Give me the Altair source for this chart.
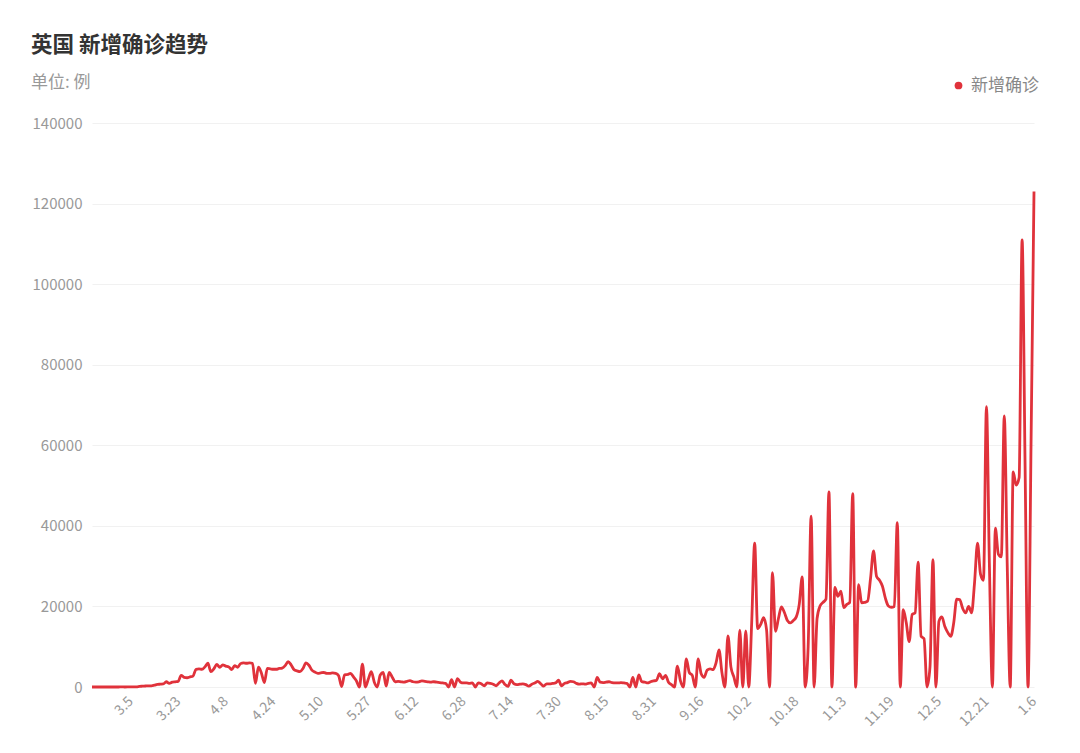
import altair as alt
import pandas as pd

# ---- categories: daily dates shown on the category axis (a few days are absent in the source) ----
start = pd.Timestamp("2020-02-21")
end = pd.Timestamp("2021-01-06")
missing_days = ["2020-03-08", "2020-03-15", "2020-05-17"]
all_days = pd.date_range(start, end, freq="D")
dates = [f"{d.month}.{d.day}" for d in all_days if d.strftime("%Y-%m-%d") not in missing_days]

# ---- series values ----
values = [
    0, 0, 0, 0, 4, 0, 3, 2, 0, 4,
    13, 3, 12, 36, 29, 48, 150, 200, 250, 300,
    300, 450, 650, 700, 750, 1300, 900, 1200, 1300, 1400,
    2900, 2400, 2300, 2500, 2700, 4400, 4500, 4400, 5000, 5900,
    3800, 4500, 5600, 4900, 5500, 5200, 5000, 4300, 5300, 4900,
    5800, 6000, 5900, 6000, 5900, 900, 4900, 3500, 1100, 4600,
    4500, 4400, 4400, 4600, 4700, 5300, 6300, 5500, 4300, 4000,
    3800, 4600, 6000, 5400, 4200, 3700, 3400, 3500, 3600, 3400,
    3400, 3500, 3400, 2800, 100, 3000, 3100, 3400, 2500, 1500,
    0, 5700, 0, 2000, 3800, 1200, 0, 3000, 3600, 200,
    3600, 2500, 1300, 1400, 1300, 1200, 1400, 1600, 1300, 1200,
    1300, 1500, 1400, 1300, 1200, 1300, 1200, 1100, 1000, 900,
    0, 1800, 0, 2100, 1200, 1000, 1000, 900, 1000, 0,
    1000, 800, 300, 1000, 900, 700, 300, 1000, 1500, 600,
    150, 1700, 800, 600, 700, 800, 600, 200, 700, 1000,
    1400, 800, 200, 800, 800, 900, 1000, 1700, 300, 900,
    1100, 1400, 1300, 900, 700, 800, 700, 900, 1000, 0,
    2400, 1200, 1100, 1200, 1300, 1100, 1000, 1000, 1100, 1000,
    900, 0, 2400, 0, 3000, 1300, 1200, 1000, 1300, 1500,
    1700, 3300, 2000, 2900, 1200, 600, 0, 5200, 1600, 0,
    7000, 3600, 2900, 0, 7000, 3300, 2400, 4200, 4500, 4300,
    6000, 9200, 3500, 0, 12700, 5000, 2500, 0, 14100, 0,
    13900, 0, 16000, 35700, 14500, 15500, 17200, 14200, 0, 28400,
    13800, 17000, 19900, 18500, 16500, 15900, 16500, 17400, 20500, 27300,
    0, 10000, 42400, 0, 17000, 20100, 21000, 21800, 48400, 0,
    24700, 22500, 23800, 19700, 20500, 21000, 48000, 0, 25400, 20900,
    21000, 21300, 27000, 33800, 27500, 26500, 25000, 22000, 20100, 19800,
    20000, 40800, 0, 19200, 16000, 11300, 18000, 18400, 31000, 12600,
    12000, 0, 5000, 31600, 0, 16300, 17400, 15000, 13500, 12600,
    16000, 21800, 21700, 19500, 18400, 20000, 18400, 26000, 35700, 28000,
    26500, 69600, 30000, 0, 39400, 33000, 32300, 67300, 30000, 0,
    53400, 50100, 52000, 111000, 55000, 0, 60000, 123000,
]

# ---- axis tick labels ----
x_tick_labels = ["3.5", "3.23", "4.8", "4.24", "5.10", "5.27", "6.12", "6.28", "7.14", "7.30",
                 "8.15", "8.31", "9.16", "10.2", "10.18", "11.3", "11.19", "12.5", "12.21", "1.6"]
y_tick_values = [0, 20000, 40000, 60000, 80000, 100000, 120000, 140000]

series_name = "新增确诊"
line_color = "#e0323b"
font = "Noto Sans CJK SC"

df = pd.DataFrame({"date": dates, "value": values, "series": [series_name] * len(dates)})

chart = alt.Chart(df).mark_line(
    interpolate="monotone", strokeWidth=2.8, color=line_color
).encode(
    x=alt.X("date:O", sort=None, title=None,
            scale=alt.Scale(padding=0),
            axis=alt.Axis(values=x_tick_labels, labelAngle=-45, labelAlign="right",
                          labelBaseline="middle", labelPadding=12, labelColor="#999999",
                          labelFontSize=14, labelFont=font, domain=False, ticks=False,
                          grid=False, labelOverlap=False)),
    y=alt.Y("value:Q", title=None,
            scale=alt.Scale(domain=[0, 140000], nice=False),
            axis=alt.Axis(values=y_tick_values, format="d", domain=False, ticks=False,
                          labelColor="#999999", labelFontSize=15, labelFont=font,
                          labelPadding=10, gridColor="#f1f1f1", gridWidth=1)),
    color=alt.Color("series:N",
                    scale=alt.Scale(domain=[series_name], range=[line_color]),
                    legend=alt.Legend(title=None, orient="none", legendX=858, legendY=-46,
                                      symbolType="circle", symbolSize=60,
                                      symbolFillColor=line_color, symbolStrokeColor=line_color,
                                      symbolStrokeWidth=0, labelFontSize=17,
                                      labelColor="#888888", labelFont=font, labelOffset=4,
                                      padding=0)),
).properties(
    width=942,
    height=564,
    title=alt.TitleParams(
        text="英国 新增确诊趋势",
        subtitle="单位: 例",
        anchor="start",
        frame="group",
        dx=-61,
        offset=-14,
        fontSize=21.5,
        fontWeight="bold",
        color="#333333",
        font=font,
        subtitleFontSize=17,
        subtitleColor="#999999",
        subtitleFont=font,
        subtitlePadding=19,
    ),
    autosize=alt.AutoSizeParams(type="none"),
    padding={"left": 84, "top": 115, "right": 30, "bottom": 58},
    background="white",
).configure_view(stroke=None)

chart.save("out.html", embed_options={"renderer": "svg", "actions": False})
